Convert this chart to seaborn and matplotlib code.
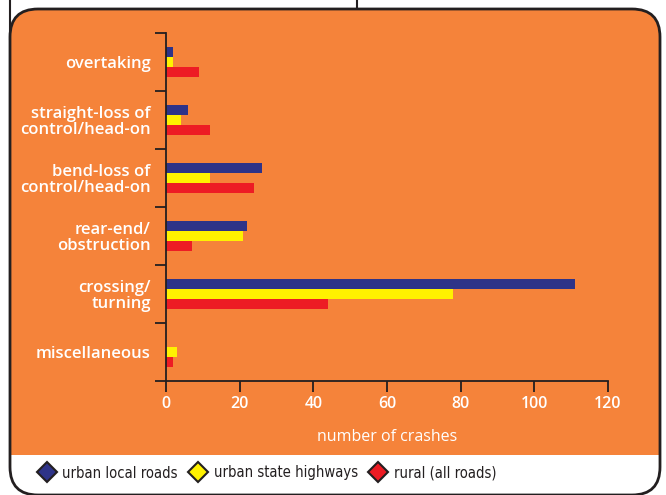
import numpy as np
import pandas as pd
import seaborn as sns
import matplotlib.pyplot as plt
from matplotlib.patches import FancyBboxPatch, Rectangle
from matplotlib.lines import Line2D

# ------------------ DATA ------------------
categories = [
    'overtaking',
    'straight-loss of\ncontrol/head-on',
    'bend-loss of\ncontrol/head-on',
    'rear-end/\nobstruction',
    'crossing/\nturning',
    'miscellaneous',
]
series = ['urban local roads', 'urban state highways', 'rural (all roads)']
urban_local = [2, 6, 26, 22, 111, 0]
urban_state = [2, 4, 12, 21, 78, 3]
rural = [9, 12, 24, 7, 44, 2]
x_ticks = [0, 20, 40, 60, 80, 100, 120]

df = pd.DataFrame({
    'category': categories * 3,
    'series': np.repeat(series, len(categories)),
    'crashes': urban_local + urban_state + rural,
})

# ------------------ STYLE ------------------
ORANGE = '#F5833A'
DARK = '#231F20'
palette = {'urban local roads': '#2E3388',
           'urban state highways': '#FFF200',
           'rural (all roads)': '#ED1C24'}

sns.set_style('white')
plt.rcParams['font.family'] = ['Open Sans', 'DejaVu Sans']
plt.rcParams['font.weight'] = 'semibold'

W, H = 666, 495
fig = plt.figure(figsize=(W / 100, H / 100), dpi=100)
fig.patch.set_facecolor('white')

# background panel in pixel coordinates
bg = fig.add_axes([0, 0, 1, 1])
bg.set_xlim(0, W)
bg.set_ylim(H, 0)
bg.axis('off')

bg.plot([10, 10], [0, 40], color=DARK, lw=1.5, zorder=1)
bg.plot([357, 357], [0, 9], color=DARK, lw=1.5, zorder=1)

panel = FancyBboxPatch((10, 9), 650, 486, boxstyle='round,pad=0,rounding_size=28',
                       facecolor=ORANGE, edgecolor='none', zorder=2)
bg.add_patch(panel)
strip = Rectangle((0, 455), W, 60, facecolor='white', edgecolor='none', zorder=3)
bg.add_patch(strip)
strip.set_clip_path(panel)
border = FancyBboxPatch((10, 9), 650, 486, boxstyle='round,pad=0,rounding_size=28',
                        facecolor='none', edgecolor=DARK, lw=2, zorder=4)
bg.add_patch(border)

# ------------------ BARS ------------------
ax = fig.add_axes([166 / W, 1 - 381 / H, (608 - 166) / W, (381 - 33) / H])
ax.patch.set_alpha(0)
sns.barplot(data=df, y='category', x='crashes', hue='series', orient='h',
            palette=palette, width=0.52, saturation=1, legend=False,
            linewidth=0, ax=ax)

ax.set_xlim(0, 120)
ax.set_ylim(len(categories) - 0.5, -0.5)
ax.set_xticks(x_ticks)
ax.set_xticklabels([str(t) for t in x_ticks])
ax.set_yticks(range(len(categories)))
ax.set_yticklabels(categories, ha='right', linespacing=1.0)
ax.set_yticks(np.arange(-0.5, len(categories), 1), minor=True)

ax.tick_params(axis='y', which='major', length=0, pad=11, labelsize=12,
               labelcolor='white')
ax.tick_params(axis='y', which='minor', length=8, width=1.3, color=DARK,
               direction='out', left=True)
ax.tick_params(axis='x', length=8, width=1.3, color=DARK, direction='out',
               bottom=True, pad=3, labelsize=11.5, labelcolor='white')

for s in ['top', 'right']:
    ax.spines[s].set_visible(False)
for s in ['left', 'bottom']:
    ax.spines[s].set_color(DARK)
    ax.spines[s].set_linewidth(1.3)

ax.set_ylabel('')
ax.set_xlabel('number of crashes', color='white', fontsize=11.5, labelpad=12)

# ------------------ LEGEND ------------------
handles = [Line2D([], [], marker='D', linestyle='none', markersize=10,
                  markerfacecolor=palette[s], markeredgecolor=DARK,
                  markeredgewidth=1.5) for s in series]
leg = fig.legend(handles, series, loc='center left', bbox_to_anchor=(26 / W, 1 - 473 / H),
                 ncol=3, frameon=False, handlelength=1.0, handletextpad=0.55,
                 columnspacing=0.9,
                 prop={'family': ['DejaVu Sans'], 'stretch': 'condensed',
                       'weight': 'normal', 'size': 10.6})
for t in leg.get_texts():
    t.set_color('#231F20')

plt.savefig('out.png', dpi=100)
plt.close()
